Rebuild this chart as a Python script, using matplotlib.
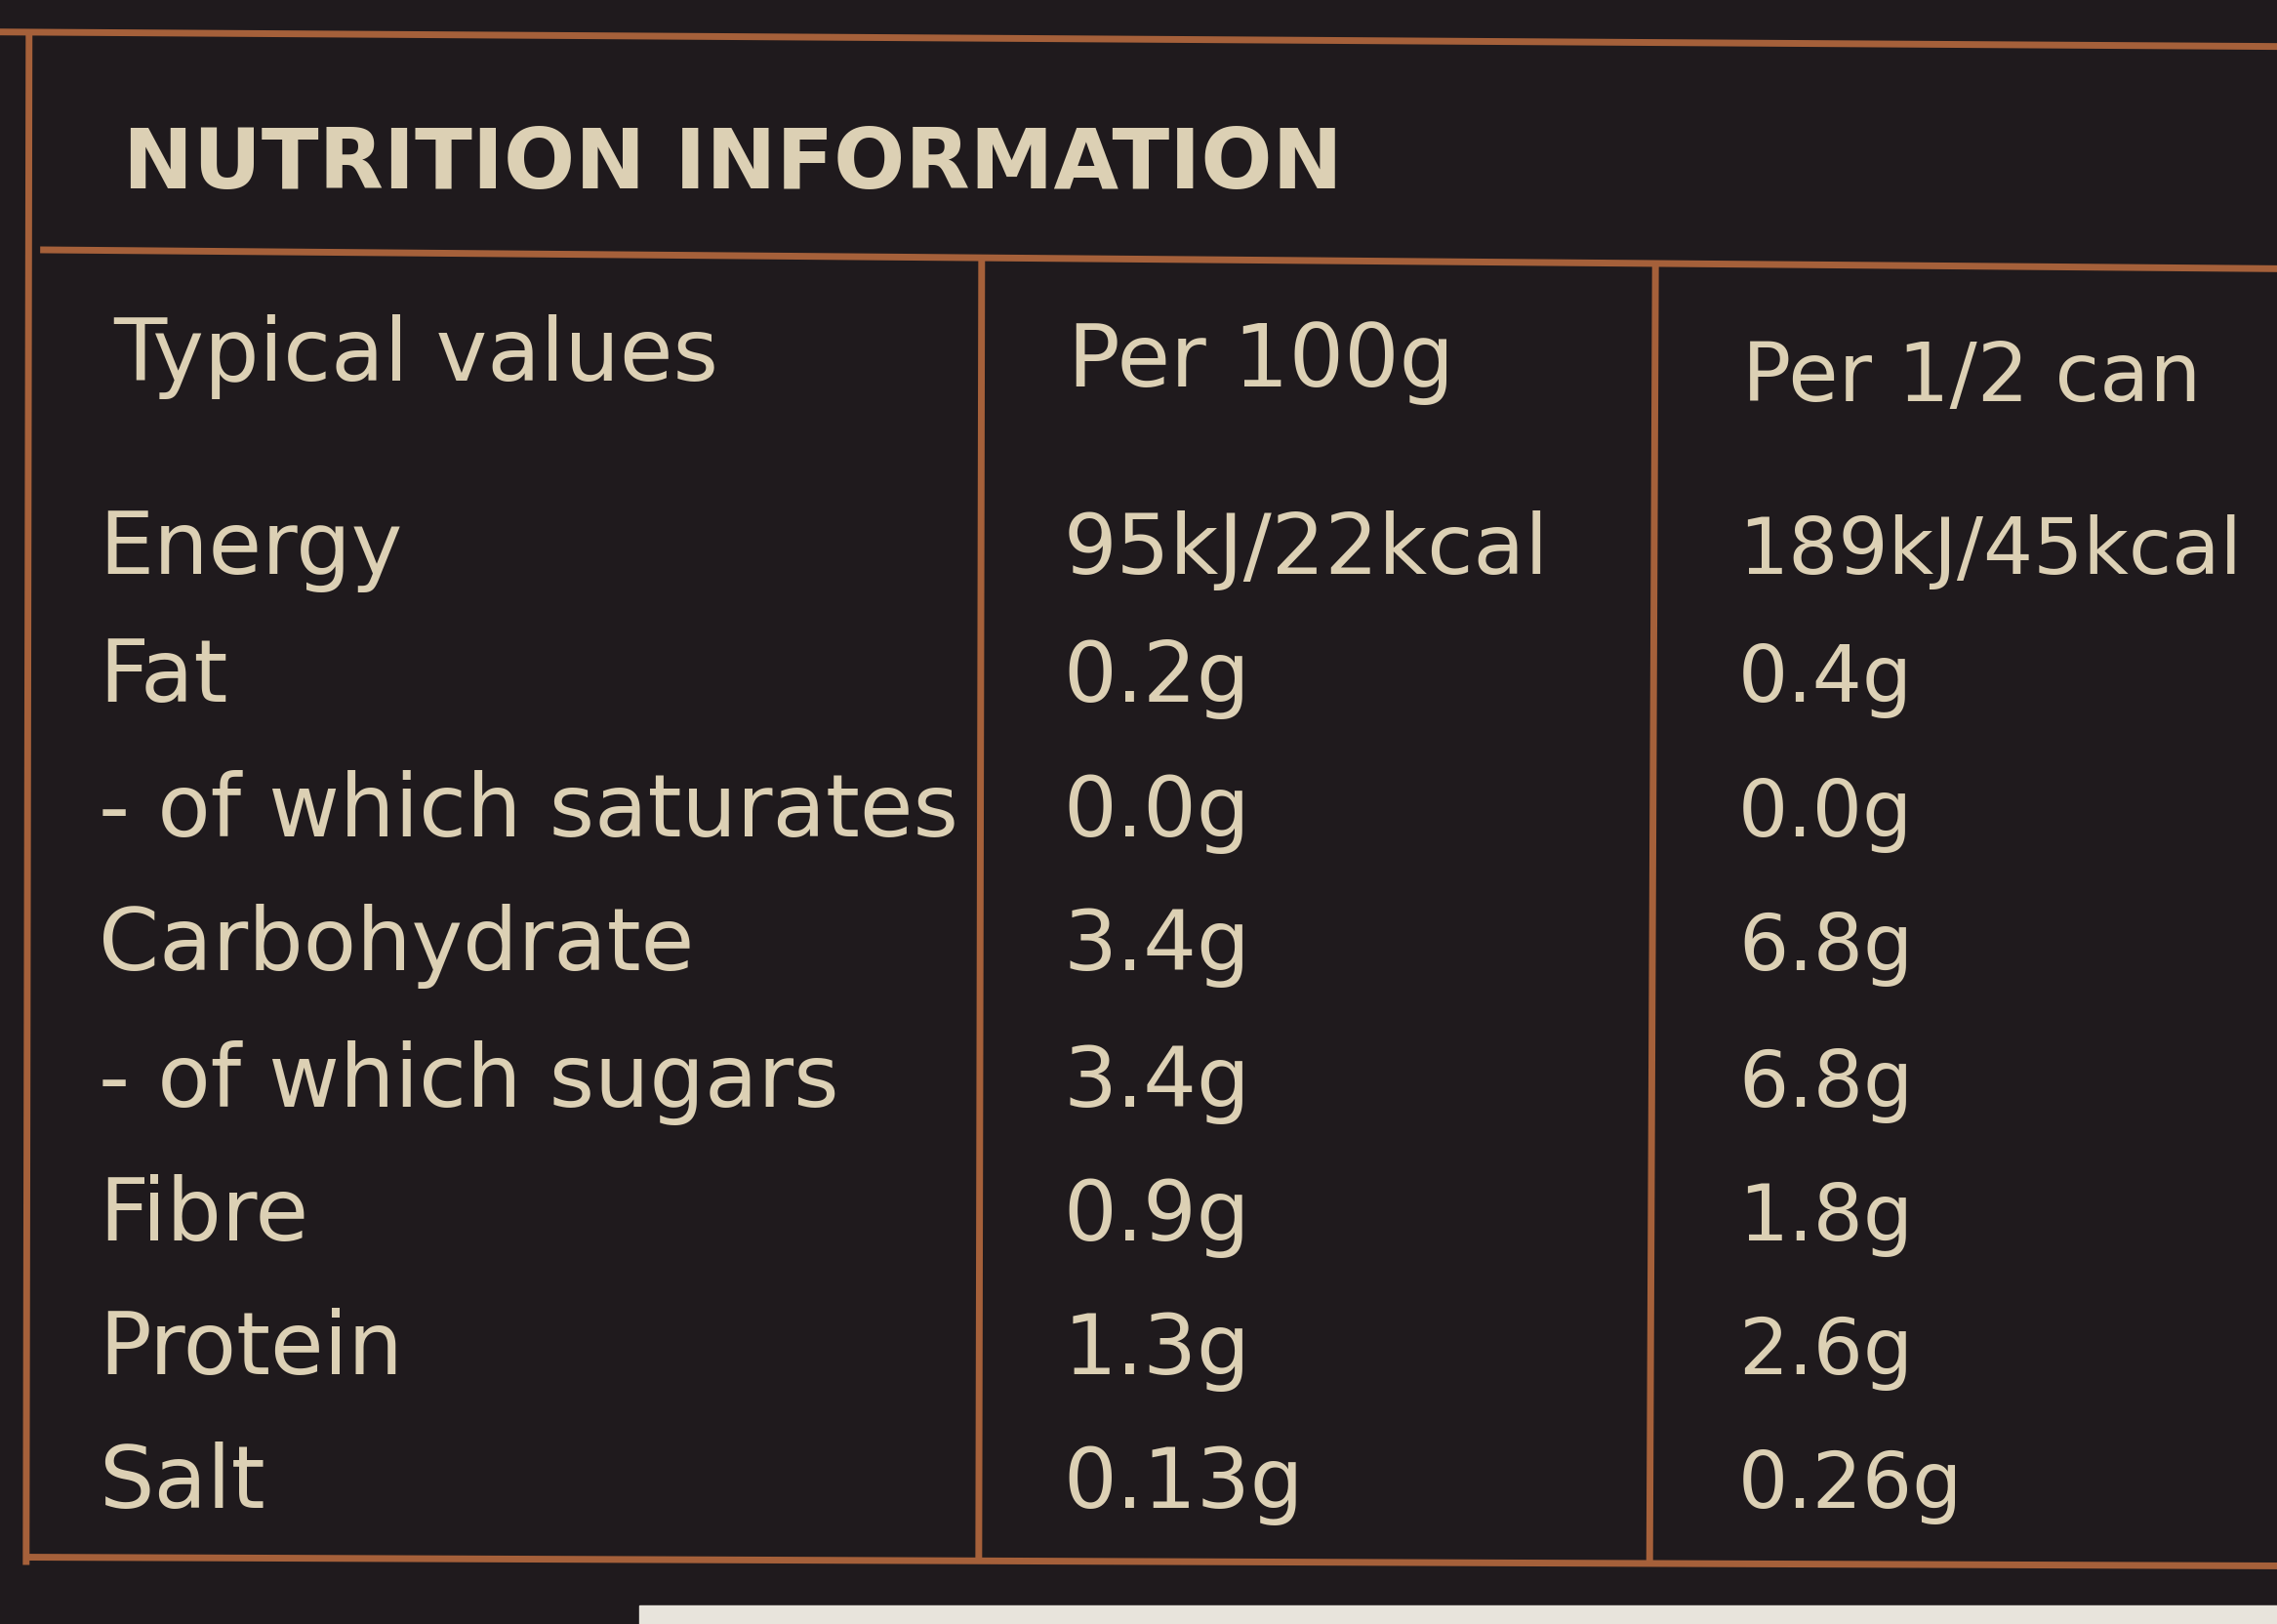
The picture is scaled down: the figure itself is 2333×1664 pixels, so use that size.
import matplotlib.pyplot as plt
from matplotlib.patches import Rectangle

title = "NUTRITION INFORMATION"
header = ["Typical values", "Per 100g", "Per 1/2 can"]
nutrients = ["Energy", "Fat", "- of which saturates", "Carbohydrate",
             "- of which sugars", "Fibre", "Protein", "Salt"]
per_100g = ["95kJ/22kcal", "0.2g", "0.0g", "3.4g", "3.4g", "0.9g", "1.3g", "0.13g"]
per_half_can = ["189kJ/45kcal", "0.4g", "0.0g", "6.8g", "6.8g", "1.8g", "2.6g", "0.26g"]

bg = "#1f1a1d"
line_c = "#a5603a"
txt_c = "#dcd0b4"

fig = plt.figure(figsize=(23.33, 16.64), dpi=100, facecolor=bg)
ax = fig.add_axes([0, 0, 1, 1])
ax.set_xlim(0, 1568)
ax.set_ylim(1118, 0)
ax.axis("off")
ax.add_patch(Rectangle((0, 0), 1568, 1118, color=bg, zorder=0))
ax.add_patch(Rectangle((440, 1105), 1128, 13, color="#e8e4dc", zorder=1))

lw = 5
ax.plot([0, 1568], [22, 32], color=line_c, lw=lw)
ax.plot([20, 18], [25, 1075], color=line_c, lw=lw)
ax.plot([30, 1568], [172, 185], color=line_c, lw=lw)
ax.plot([676, 674], [178, 1072], color=line_c, lw=lw)
ax.plot([1140, 1136], [182, 1072], color=line_c, lw=lw)
ax.plot([20, 1568], [1072, 1078], color=line_c, lw=lw)

font = dict(family=["DejaVu Sans"], color=txt_c, va="baseline")
ax.text(85, 130, title, fontsize=62, fontweight="bold", **font)

xs = [78, 735, 1200]
ax.text(xs[0], 262, header[0], fontsize=64, **font)
ax.text(xs[1], 266, header[1], fontsize=64, **font)
ax.text(xs[2], 276, header[2], fontsize=60, **font)

bases = [395, 483, 576, 668, 762, 854, 946, 1038]
for b, n, v1, v2 in zip(bases, nutrients, per_100g, per_half_can):
    ax.text(68, b, n, fontsize=64, **font)
    ax.text(xs[1] - 3, b, v1, fontsize=62, **font)
    ax.text(xs[2] - 3, b, v2, fontsize=58, **font)

fig.savefig("out.png", dpi=100, facecolor=bg)
